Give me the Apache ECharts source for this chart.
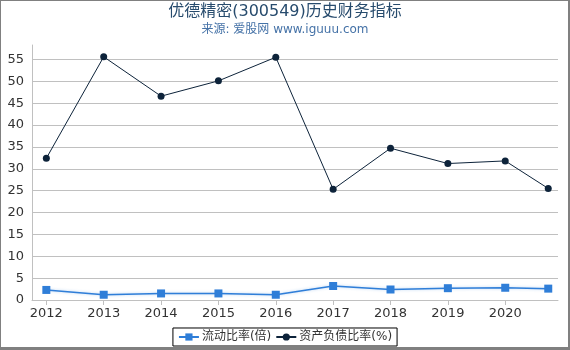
<!DOCTYPE html>
<html>
<head>
<meta charset="utf-8">
<script src="https://cdn.jsdelivr.net/npm/echarts@6/dist/echarts.min.js"></script>
<style>
html,body{margin:0;padding:0;background:#fff;}
#chart{position:absolute;left:0;top:0;width:570px;height:350px;}
#frame{position:absolute;left:0;top:0;width:570px;height:350px;box-sizing:border-box;border-style:solid;border-color:#808080;border-width:1px 2px 3px 1px;pointer-events:none;}
</style>
</head>
<body>
<div id="chart"></div>
<div id="frame"></div>
<script>
const titleText = '优德精密(300549)历史财务指标';
const subtitleText = '来源: 爱股网 www.iguuu.com';
const xPositions = [2012, 2013, 2014, 2015, 2016, 2017, 2018, 2019, 2020, 2020.75];
const xTickLabels = [2012, 2013, 2014, 2015, 2016, 2017, 2018, 2019, 2020];
const seriesNames = ['流动比率(倍)', '资产负债比率(%)'];
const currentRatio = [2.3, 1.2, 1.5, 1.5, 1.2, 3.2, 2.4, 2.7, 2.8, 2.6];
const debtRatio = [32.4, 55.6, 46.6, 50.1, 55.5, 25.3, 34.7, 31.2, 31.8, 25.5];

const FONT = '"DejaVu Sans", "Noto Sans CJK SC", sans-serif';
const chart = echarts.init(document.getElementById('chart'), null, {renderer: 'canvas'});
const pairs = (vals) => vals.map((v, i) => [xPositions[i], v]);

chart.setOption({
  animation: false,
  backgroundColor: '#fff',
  textStyle: {fontFamily: FONT},
  title: {
    text: titleText,
    subtext: subtitleText,
    left: 'center',
    top: -1,
    itemGap: 4,
    textStyle: {fontFamily: FONT, fontSize: 16, fontWeight: 'normal', color: '#274b6d'},
    subtextStyle: {fontFamily: FONT, fontSize: 12, color: '#4572a7'}
  },
  legend: {
    bottom: 4,
    left: 'center',
    data: seriesNames,
    borderColor: '#000',
    borderWidth: 1,
    borderRadius: 0,
    padding: [3, 5, 3, 5],
    itemGap: 4,
    itemWidth: 20,
    itemHeight: 9,
    textStyle: {fontFamily: FONT, fontSize: 12, color: '#333', padding: [0, 0, 0, -2]}
  },
  grid: {left: 32, right: 12, top: 45, bottom: 50, containLabel: false},
  xAxis: {
    type: 'value',
    min: 2011.75,
    max: 2020.92,
    axisLine: {show: true, lineStyle: {color: '#c0c0c0'}},
    axisTick: {show: true, length: 5, customValues: xTickLabels, lineStyle: {color: '#c0c0c0'}},
    axisLabel: {
      customValues: xTickLabels,
      formatter: (v) => String(Math.round(v)),
      fontFamily: FONT, fontSize: 13, color: '#333', margin: 7
    },
    splitLine: {show: false}
  },
  yAxis: {
    type: 'value',
    min: 0,
    max: 58.3,
    interval: 5,
    axisLine: {show: true, lineStyle: {color: '#c0c0c0'}},
    axisTick: {show: false},
    axisLabel: {fontFamily: FONT, fontSize: 13, color: '#333', margin: 8, showMaxLabel: false},
    splitLine: {show: true, showMaxLine: false, lineStyle: {color: '#c0c0c0', width: 1}}
  },
  series: [
    {
      name: seriesNames[0],
      type: 'line',
      data: pairs(currentRatio),
      symbol: 'rect',
      symbolSize: 8,
      color: '#2f7ed8',
      lineStyle: {width: 1.5, color: '#2f7ed8', shadowColor: 'rgba(47,126,216,0.35)', shadowBlur: 3},
      itemStyle: {color: '#2f7ed8'},
      z: 3
    },
    {
      name: seriesNames[1],
      type: 'line',
      data: pairs(debtRatio),
      symbol: 'circle',
      symbolSize: 7,
      color: '#0d233a',
      lineStyle: {width: 1, color: '#0d233a'},
      itemStyle: {color: '#0d233a'},
      z: 4
    }
  ]
});
</script>
</body>
</html>
